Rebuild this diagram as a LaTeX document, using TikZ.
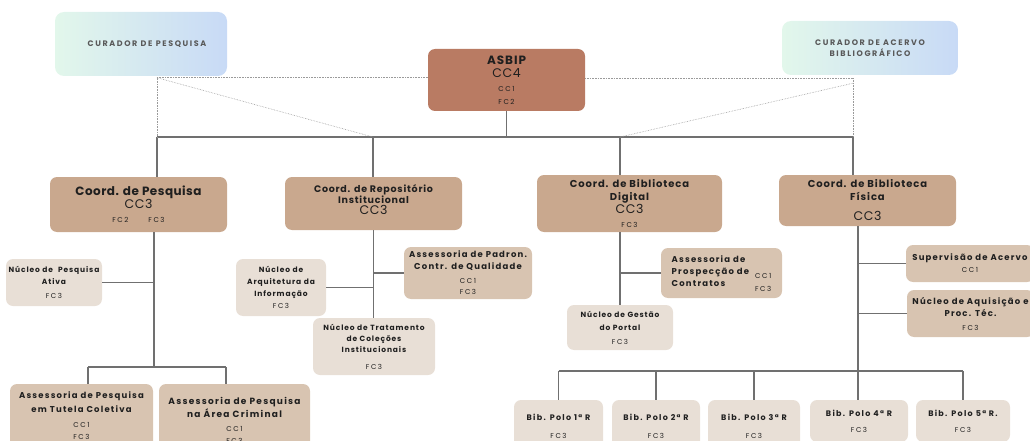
\documentclass[tikz,border=0pt]{standalone}
\usepackage{fontspec}
\setmainfont{Poppins}
\usetikzlibrary{positioning, calc}
\definecolor{asbipc}{HTML}{B97B63}
\definecolor{coordc}{HTML}{C9A88E}
\definecolor{assessc}{HTML}{D8C4B1}
\definecolor{nucleoc}{HTML}{E8DFD6}
\definecolor{mintc}{HTML}{E2F7EB}
\definecolor{bluec}{HTML}{C8DAF6}
\definecolor{linec}{HTML}{707070}
\definecolor{dotc}{HTML}{9A9A9A}
\definecolor{inkc}{HTML}{1F1F1F}
\def\hd{\fontsize{12}{12}\selectfont\bfseries\addfontfeature{LetterSpace=4}}
\def\hdb{\fontsize{9.5}{12}\selectfont\bfseries\addfontfeature{LetterSpace=8}}
\def\hdd{\fontsize{10}{12}\selectfont\bfseries\addfontfeature{LetterSpace=9}}
\def\hdc{\fontsize{8.5}{12}\selectfont\bfseries\addfontfeature{LetterSpace=14}}
\def\hdp{\fontsize{8}{12}\selectfont\bfseries\addfontfeature{LetterSpace=16}}
\def\cc{\fontsize{12.5}{12}\selectfont\addfontfeature{LetterSpace=5}}
\def\sm{\fontsize{7.5}{12}\selectfont\bfseries\addfontfeature{LetterSpace=12}}
\def\fc{\fontsize{7}{12}\selectfont\mdseries\addfontfeature{LetterSpace=22}}

\begin{document}
\begin{tikzpicture}
	[
	x = 1pt, y = -1pt,
	box/.style = {rectangle, rounded corners = 7pt, inner sep = 2pt, align = center, text = inkc},
	curador/.style = {box, rounded corners = 9pt, left color = mintc, right color = bluec, text = black!65,
		font = \fontsize{8}{11}\selectfont\bfseries\addfontfeature{LetterSpace=20}},
	chefia/.style = {box, fill = asbipc, font = \fontsize{6}{13.5}\selectfont},
	coord/.style = {box, fill = coordc, font = \fontsize{6}{13}\selectfont},
	assess/.style = {box, fill = assessc, font = \fontsize{6}{12}\selectfont},
	nucleo/.style = {box, fill = nucleoc, font = \fontsize{6}{12}\selectfont},
	conn/.style = {draw = linec, line width = 1.1pt},
	dots/.style = {draw = dotc, densely dotted, line width = 0.6pt}
	]
	\useasboundingbox (0, 0) rectangle (1030, 441);
	
	% topo
	\node[curador, minimum width = 172pt, minimum height = 64pt] (curP) at (141, 44) {\hspace{12pt}CURADOR DE PESQUISA};
	\node[curador, minimum width = 176pt, minimum height = 54pt] (curA) at (870, 48) {CURADOR DE ACERVO\\BIBLIOGRÁFICO};
	\node[chefia, minimum width = 157pt, minimum height = 62pt] (asbip) at (506.5, 80) {{\hd\addfontfeature{LetterSpace=8} ASBIP}\\{\cc CC4}\\{\fc CC1}\\{\fc FC2}};
	
	% coordenacoes
	\node[coord, minimum width = 177pt, minimum height = 55pt] (cP) at (138.5, 204.5) {{\hd Coord. de Pesquisa}\\{\cc CC3}\\[1pt]{\fc FC2\hspace{20pt}FC3}};
	\node[coord, minimum width = 177pt, minimum height = 53pt] (cR) at (373.5, 203.5) {{\hdb Coord. de Repositório}\\[-2pt]{\hdb Institucional}\\[-2pt]{\cc CC3}\\[-5pt]\mbox{}};
	\node[coord, minimum width = 185pt, minimum height = 57pt] (cD) at (629.5, 203.5) {{\hdd Coord. de Biblioteca}\\{\hdd Digital}\\{\cc CC3}\\[1pt]{\fc FC3}};
	\node[coord, minimum width = 177pt, minimum height = 51pt] (cF) at (867.5, 200.5) {{\hdd Coord. de Biblioteca}\\{\hdd Física}\\[7pt]{\cc CC3}};
	
	% pesquisa
	\node[nucleo, minimum width = 96pt, minimum height = 47pt] (nPA) at (54, 282.5) {{\sm Núcleo de\ \ Pesquisa}\\{\sm Ativa}\\[2pt]{\fc FC3}};
	\node[assess, minimum width = 143pt, minimum height = 64pt] (aTut) at (81.5, 416) {{\hdc Assessoria de Pesquisa}\\[2pt]{\hdc em Tutela Coletiva}\\[3pt]{\fc CC1}\\{\fc FC3}};
	\node[assess, minimum width = 151pt, minimum height = 73pt] (aCrim) at (234.5, 420.5) {{\hdc\fontsize{9}{12}\selectfont Assessoria de Pesquisa}\\[1pt]{\hdc\fontsize{9}{12}\selectfont na Área Criminal}\\[2pt]{\fc CC1}\\{\fc FC3}};
	
	% repositorio
	\node[nucleo, minimum width = 90pt, minimum height = 57pt] (nArq) at (281, 287.5) {{\sm Núcleo de}\\{\sm Arquitetura da}\\{\sm Informação}\\{\fc FC3}};
	\node[assess, minimum width = 128pt, minimum height = 52pt] (aPad) at (468, 273) {{\hdc Assessoria de Padron.}\\{\hdc Contr. de Qualidade}\\[2pt]{\fc CC1}\\[-1pt]{\fc FC3}};
	\node[nucleo, minimum width = 122pt, minimum height = 57pt] (nTrat) at (374, 346.5) {{\sm Núcleo de Tratamento}\\[-1pt]{\sm de Coleções}\\[-1pt]{\sm Institucionais}\\[5pt]{\fc FC3}};
	
	% biblioteca digital
	\node[assess, minimum width = 121pt, minimum height = 50pt] (aProsp) at (721.5, 273) {\begin{tabular}{@{}l@{\hspace{6pt}}c@{}}
		{\hdc Assessoria de} & \\
		{\hdc Prospecção de} & \raisebox{-4pt}{\fc CC1}\\
		{\hdc Contratos} & \raisebox{-5pt}{\fc FC3}
		\end{tabular}};
	\node[nucleo, minimum width = 106pt, minimum height = 45pt] (nGest) at (620, 327.5) {{\sm Núcleo de Gestão}\\[1pt]{\sm do Portal}\\[2pt]{\fc FC3}};
	
	% biblioteca fisica
	\node[assess, minimum width = 128pt, minimum height = 37pt] (sAc) at (970, 263.5) {{\hdc Supervisão de Acervo}\\{\fc CC1}};
	\node[assess, minimum width = 127pt, minimum height = 47pt] (nAq) at (970.5, 313.5) {{\hdc Núcleo de Aquisição e}\\{\hdc Proc. Téc.}\\[2pt]{\fc FC3}};
	\node[nucleo, minimum width = 89pt, minimum height = 52pt] (polo1) at (558.5, 426) {{\hdp Bib. Polo 1ª R}\\[6pt]{\fc FC3}};
	\node[nucleo, minimum width = 88pt, minimum height = 52pt] (polo2) at (656, 426) {{\hdp Bib. Polo 2ª R}\\[6pt]{\fc FC3}};
	\node[nucleo, minimum width = 92pt, minimum height = 52pt] (polo3) at (754, 426) {{\hdp Bib. Polo 3ª R}\\[6pt]{\fc FC3}};
	\node[nucleo, minimum width = 98pt, minimum height = 42pt] (polo4) at (859, 421) {{\hdp Bib. Polo 4ª R}\\[4pt]{\fc FC3}};
	\node[nucleo, minimum width = 94pt, minimum height = 42pt] (polo5) at (963, 421) {{\hdp Bib. Polo 5ª R.}\\[4pt]{\fc FC3}};
	
	% barramento principal
	\coordinate (b1) at (157, 137);
	\coordinate (b2) at (373, 137);
	\coordinate (b3) at (620, 137);
	\coordinate (b4) at (853, 137);
	\draw[conn] (asbip.south) -- (asbip.south |- b1);
	\draw[conn] (b1) -- (b4);
	\draw[conn] (b1) -- (b1 |- cP.north);
	\draw[conn] (b2) -- (b2 |- cR.north);
	\draw[conn] (b3) -- (b3 |- cD.north);
	\draw[conn] (b4) -- (b4 |- cF.north);
	
	% curadores (pontilhado)
	\coordinate (d1) at ($(curP.south -| b1) + (0, 1.5)$);
	\coordinate (d2) at ($(curA.south -| b4) + (0, 3)$);
	\coordinate (d3) at ($(d2) + (0, 5)$);
	\draw[dots] (d1) -- (b1);
	\draw[dots] (d1) -- (d1 -| asbip.west);
	\draw[dots] (d1) -- (b2);
	\draw[dots] (d2) -- (b4);
	\draw[dots] (d2) -- (d2 -| asbip.east);
	\draw[dots] (d3) -- (b3);
	
	% ramos
	\coordinate (p1) at (154, 367);
	\coordinate (p2) at (88, 367);
	\coordinate (p3) at (226, 367);
	\draw[conn] (cP.south -| p1) -- (p1);
	\draw[conn] (nPA.east) -- (nPA.east -| p1);
	\draw[conn] (p2) -- (p3);
	\draw[conn] (p2) -- (p2 |- aTut.north);
	\draw[conn] (p3) -- (p3 |- aCrim.north);
	
	\draw[conn] (cR.south) -- (cR.south |- nTrat.north);
	\draw[conn] (nArq.east) -- (nArq.east -| cR.south);
	\draw[conn] (aPad.west) -- (aPad.west -| cR.south);
	
	\draw[conn] (cD.south -| nGest.north) -- (nGest.north);
	\draw[conn] (aProsp.west) -- (aProsp.west -| nGest.north);
	
	\coordinate (r1) at (858, 371);
	\draw[conn] (cF.south -| r1) -- (r1 |- polo4.north);
	\draw[conn] (sAc.west) -- (sAc.west -| r1);
	\draw[conn] (nAq.west) -- (nAq.west -| r1);
	\draw[conn] (polo1.north |- r1) -- (polo5.north |- r1);
	\draw[conn] (polo1.north |- r1) -- (polo1.north);
	\draw[conn] (polo2.north |- r1) -- (polo2.north);
	\draw[conn] (polo3.north |- r1) -- (polo3.north);
	\draw[conn] (polo5.north |- r1) -- (polo5.north);
\end{tikzpicture}
\end{document}
